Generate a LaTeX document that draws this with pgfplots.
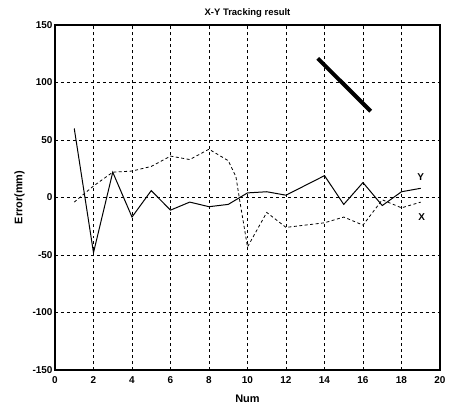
\documentclass[border=0pt]{standalone}
\usepackage{fontspec}
\setmainfont{Liberation Sans}
\usepackage{pgfplots}
\pgfplotsset{compat=1.18}

\begin{document}
\begin{tikzpicture}
\begin{axis}[
    scale only axis,
    width=385bp,
    height=345bp,
    xmin=0, xmax=20,
    ymin=-150, ymax=150,
    xtick={0,2,...,20},
    ytick={-150,-100,...,150},
    grid=major,
    grid style={black, line width=0.6pt, dash pattern=on 3pt off 3pt},
    axis line style={black, line width=1.1pt},
    tick style={black},
    major tick length=0pt,
    tick label style={font=\fontsize{10}{11}\selectfont\bfseries},
    xticklabel style={yshift=-3bp},
    yticklabel style={xshift=1bp},
    /pgf/number format/assume math mode=true,
    title={X-Y Tracking result},
    title style={font=\fontsize{9.5}{10}\selectfont\bfseries, yshift=-2bp},
    xlabel={Num},
    ylabel={Error(mm)},
    xlabel style={font=\fontsize{11}{12}\selectfont\bfseries, yshift=-5bp},
    ylabel style={font=\fontsize{11}{12}\selectfont\bfseries, yshift=1bp},
    clip=false,
]
% Y (solid)
\addplot[black, line width=1pt] coordinates {
(1,60) (2,-48) (3,22) (4,-17) (5,6) (6,-11) (7,-4) (8,-8) (9,-6)
(10,4) (11,5) (12,2) (14,19) (15,-6) (16,13) (17,-7) (18,5) (19,8)
};
% X (dashed)
\addplot[black, line width=0.8pt, dash pattern=on 3pt off 2.5pt] coordinates {
(1,-4) (2,10) (3,22) (4,23) (5,27) (6,36) (7,33) (8,42) (9,32)
(9.4,18) (9.6,-3) (10,-43) (11,-13) (12,-26) (13,-24) (14,-22)
(15,-17) (16,-24) (17,-2) (18,-9) (19,-4)
};
% thick segment
\addplot[black, line width=4pt] coordinates {(13.65,121) (16.4,75)};
\node[font=\fontsize{10}{11}\selectfont\bfseries] at (axis cs:19,18) {Y};
\node[font=\fontsize{10}{11}\selectfont\bfseries] at (axis cs:19.05,-17) {X};
% page margins as in the reference
\path (rel axis cs:0,0) ++(-55bp,-39bp);
\path (rel axis cs:1,1) ++(11bp,25bp);
\end{axis}
\end{tikzpicture}
\end{document}
